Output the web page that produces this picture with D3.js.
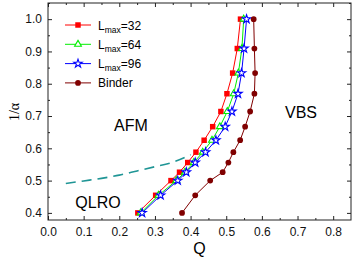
<!DOCTYPE html>
<html>
<head>
<meta charset="utf-8">
<script src="https://cdn.jsdelivr.net/npm/d3@7"></script>
<style>
  body { margin: 0; background: #fff; }
  svg { font-family: Arial, "Liberation Sans", sans-serif; }
</style>
</head>
<body>
<div id="chart"></div>
<script>
// 1/alpha values shared by all series
const invAlpha = [1.0, 0.909, 0.833, 0.769, 0.714, 0.667, 0.625, 0.588, 0.556, 0.526, 0.5, 0.4545, 0.4];
const qL32 = [0.540, 0.531, 0.518, 0.502, 0.485, 0.462, 0.438, 0.415, 0.392, 0.369, 0.345, 0.302, 0.252];
const qL64 = [0.549, 0.544, 0.534, 0.521, 0.503, 0.482, 0.460, 0.434, 0.409, 0.384, 0.360, 0.310, 0.260];
const qL96 = [0.557, 0.550, 0.543, 0.533, 0.516, 0.497, 0.471, 0.442, 0.413, 0.388, 0.364, 0.316, 0.264];
const qBinder = [0.577, 0.579, 0.581, 0.579, 0.567, 0.553, 0.539, 0.520, 0.506, 0.490, 0.455, 0.413, 0.376];

// dashed boundary AFM / QLRO
const dashQ = [0.05, 0.10, 0.15, 0.20, 0.25, 0.30, 0.35, 0.40];
const dashY = [0.491, 0.499, 0.507, 0.517, 0.530, 0.543, 0.557, 0.580];

const xTicks = [0.0, 0.1, 0.2, 0.3, 0.4, 0.5, 0.6, 0.7, 0.8];
const yTicks = [0.4, 0.5, 0.6, 0.7, 0.8, 0.9, 1.0];

const series = [
  { name: '32', q: qL32, color: '#ff0000', symbol: 'square' },
  { name: '64', q: qL64, color: '#00ee00', symbol: 'triangle' },
  { name: '96', q: qL96, color: '#0000ff', symbol: 'star' },
  { name: 'Binder', q: qBinder, color: '#800000', symbol: 'circle' }
];

const width = 354, height = 260;
const margin = { top: 3, right: 3, bottom: 40, left: 48 };

const svg = d3.select('#chart').append('svg')
  .attr('width', width)
  .attr('height', height);

const x = d3.scaleLinear().domain([0, 0.85]).range([margin.left, width - margin.right]);
const y = d3.scaleLinear().domain([0.378, 1.05]).range([height - margin.bottom, margin.top]);

const symbols = {
  square: d3.symbol().type(d3.symbolSquare).size(30),
  triangle: d3.symbol().type(d3.symbolTriangle).size(20),
  star: d3.symbol().type(d3.symbolStar).size(22),
  circle: d3.symbol().type(d3.symbolCircle).size(26)
};

function drawMarker(g, s) {
  const filled = s.symbol === 'square' || s.symbol === 'circle';
  g.append('path')
    .attr('d', symbols[s.symbol]())
    .attr('fill', filled ? s.color : '#fff')
    .attr('stroke', s.color)
    .attr('stroke-width', filled ? 0 : 1.1);
}

// dashed line
const dashData = dashQ.map((q, i) => [q, dashY[i]]);
svg.append('path')
  .datum(dashData)
  .attr('fill', 'none')
  .attr('stroke', '#1f9595')
  .attr('stroke-width', 1.6)
  .attr('stroke-dasharray', '10,6')
  .attr('d', d3.line().x(d => x(d[0])).y(d => y(d[1])).curve(d3.curveMonotoneX));

// series
const line = d3.line().x(d => x(d[0])).y(d => y(d[1]));
series.forEach(s => {
  const pts = s.q.map((q, i) => [q, invAlpha[i]]);
  svg.append('path')
    .datum(pts)
    .attr('fill', 'none')
    .attr('stroke', s.color)
    .attr('stroke-width', 1)
    .attr('d', line);
  svg.append('g')
    .selectAll('g')
    .data(pts)
    .join('g')
    .attr('transform', d => `translate(${x(d[0])},${y(d[1])})`)
    .each(function() { drawMarker(d3.select(this), s); });
});

// axes (ticks pointing inward, on all four sides)
const minorX = d3.range(0.05, 0.85, 0.1);
const minorY = d3.range(0.45, 1.05, 0.1);

function axisTicks(axis, scale, major) {
  return axis.scale(scale).tickValues(major).tickSizeInner(-4).tickSizeOuter(0).tickPadding(7);
}

svg.append('g').attr('transform', `translate(0,${height - margin.bottom})`)
  .call(axisTicks(d3.axisBottom(), x, xTicks).tickFormat(d3.format('.1f')));
svg.append('g').attr('transform', `translate(0,${height - margin.bottom})`)
  .call(d3.axisBottom(x).tickValues(minorX).tickSize(-2).tickFormat(''));
svg.append('g').attr('transform', `translate(0,${margin.top})`)
  .call(d3.axisTop(x).tickValues(xTicks).tickSizeInner(-4).tickSizeOuter(0).tickFormat(''));
svg.append('g').attr('transform', `translate(0,${margin.top})`)
  .call(d3.axisTop(x).tickValues(minorX).tickSize(-2).tickFormat(''));

svg.append('g').attr('transform', `translate(${margin.left},0)`)
  .call(axisTicks(d3.axisLeft(), y, yTicks).tickFormat(d3.format('.1f')).tickPadding(6));
svg.append('g').attr('transform', `translate(${margin.left},0)`)
  .call(d3.axisLeft(y).tickValues(minorY).tickSize(-2).tickFormat(''));
svg.append('g').attr('transform', `translate(${width - margin.right},0)`)
  .call(d3.axisRight(y).tickValues(yTicks).tickSizeInner(-4).tickSizeOuter(0).tickFormat(''));
svg.append('g').attr('transform', `translate(${width - margin.right},0)`)
  .call(d3.axisRight(y).tickValues(minorY).tickSize(-2).tickFormat(''));

svg.selectAll('.domain').remove();
svg.selectAll('.tick line').attr('stroke', '#222');
svg.selectAll('.tick text').attr('font-size', 12).attr('fill', '#111')
  .attr('font-family', 'Arial, "Liberation Sans", sans-serif');

// frame
svg.append('rect')
  .attr('x', margin.left)
  .attr('y', margin.top)
  .attr('width', width - margin.left - margin.right)
  .attr('height', height - margin.top - margin.bottom)
  .attr('fill', 'none')
  .attr('stroke', '#222')
  .attr('stroke-width', 1);

// axis titles
svg.append('text')
  .attr('x', x(0.425))
  .attr('y', 254)
  .attr('text-anchor', 'middle')
  .attr('font-size', 16)
  .text('Q');

svg.append('text')
  .attr('transform', `translate(19,112) rotate(-90)`)
  .attr('text-anchor', 'middle')
  .attr('font-size', 14)
  .attr('font-family', '"Liberation Serif", "DejaVu Serif", serif')
  .text('1/α');

// phase labels
svg.append('text').attr('x', 131).attr('y', 131).attr('text-anchor', 'middle')
  .attr('font-size', 16).text('AFM');
svg.append('text').attr('x', 301).attr('y', 118).attr('text-anchor', 'middle')
  .attr('font-size', 16).text('VBS');
svg.append('text').attr('x', 98).attr('y', 208).attr('text-anchor', 'middle')
  .attr('font-size', 16).text('QLRO');

// legend
const legend = svg.append('g').attr('transform', 'translate(65,25)');
series.forEach((s, i) => {
  const row = legend.append('g').attr('transform', `translate(0,${i * 19.3})`);
  row.append('line').attr('x1', 0).attr('x2', 26).attr('y1', 0).attr('y2', 0)
    .attr('stroke', s.color).attr('stroke-width', 1);
  const m = row.append('g').attr('transform', 'translate(13,0)');
  drawMarker(m, s);
  const t = row.append('text').attr('x', 33).attr('y', 4.5).attr('font-size', 12);
  if (s.name === 'Binder') {
    t.text('Binder');
  } else {
    t.append('tspan').text('L');
    t.append('tspan').attr('font-size', 8.5).attr('dy', 3).text('max');
    t.append('tspan').attr('dy', -3).text('=' + s.name);
  }
});
</script>
</body>
</html>
